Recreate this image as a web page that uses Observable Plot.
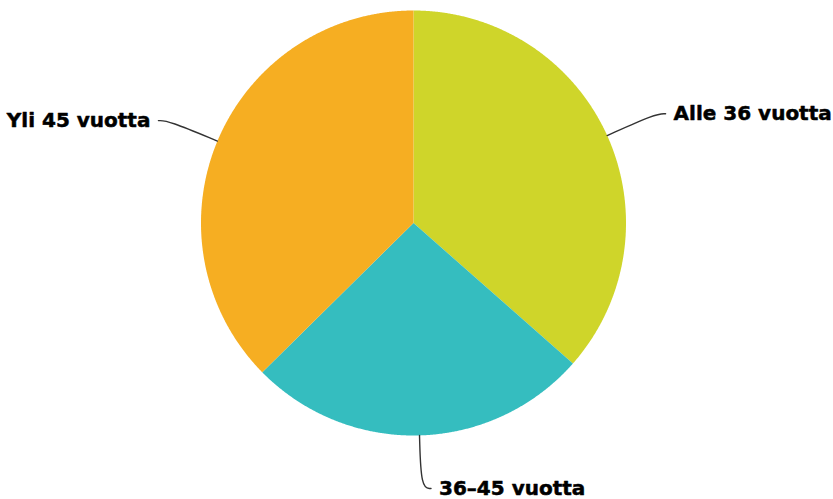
<!DOCTYPE html>
<html>
<head>
<meta charset="utf-8">
<script src="https://cdn.jsdelivr.net/npm/d3@7"></script>
<script src="https://cdn.jsdelivr.net/npm/@observablehq/plot@0.6"></script>
<style>
  html, body { margin: 0; padding: 0; background: #ffffff; }
  #chart svg { display: block; }
</style>
</head>
<body>
<div id="chart"></div>
<script>
// Data
const categories = ["Alle 36 vuotta", "36–45 vuotta", "Yli 45 vuotta"];
const values = [36.5, 26.1, 37.4];
const colors = ["#cfd52a", "#35bdbf", "#f6ae22"];

// Build slice polygons from the data (angles clockwise from 12 o'clock)
const total = d3.sum(values);
const slices = [];
let acc = 0;
categories.forEach((cat, i) => {
  const a0 = acc / total * 2 * Math.PI;
  acc += values[i];
  const a1 = acc / total * 2 * Math.PI;
  slices.push({cat, a0, a1, mid: (a0 + a1) / 2});
});

const polyPts = [];
for (const s of slices) {
  polyPts.push({cat: s.cat, x: 0, y: 0});
  const n = Math.max(2, Math.ceil((s.a1 - s.a0) / (Math.PI / 720)));
  for (let k = 0; k <= n; k++) {
    const a = s.a0 + (s.a1 - s.a0) * k / n;
    polyPts.push({cat: s.cat, x: Math.sin(a), y: Math.cos(a)});
  }
}

// Label layout (unit-radius coordinates)
const pxPerUnit = 212.5;
const labelR = 1.25;
const connPts = [];
const labelsRight = [], labelsLeft = [];
for (const s of slices) {
  const ex = Math.sin(s.mid), ey = Math.cos(s.mid);
  const bx = labelR * ex, by = labelR * ey;
  const side = ex >= 0 ? 1 : -1;
  const endX = bx + side * 10 / pxPerUnit;
  connPts.push({cat: s.cat, x: ex, y: ey});
  connPts.push({cat: s.cat, x: bx, y: by});
  connPts.push({cat: s.cat, x: endX, y: by});
  const lab = {cat: s.cat, x: endX + side * 8 / pxPerUnit, y: by};
  (side > 0 ? labelsRight : labelsLeft).push(lab);
}

const font = {fontFamily: "DejaVu Sans, Verdana, sans-serif", fontWeight: "bold", fontSize: 20, fill: "#000", stroke: "#000", strokeWidth: 0.5};

const chart = Plot.plot({
  width: 833,
  height: 499,
  margin: 0,
  style: {background: "#ffffff", overflow: "visible"},
  x: {domain: [-1, 1], range: [413 - pxPerUnit, 413 + pxPerUnit], axis: null},
  y: {domain: [-1, 1], range: [222.5 + pxPerUnit, 222.5 - pxPerUnit], axis: null},
  color: {domain: categories, range: colors},
  marks: [
    Plot.line(polyPts, {x: "x", y: "y", z: "cat", fill: "cat", stroke: "none", curve: "linear-closed"}),
    Plot.line(connPts, {x: "x", y: "y", z: "cat", stroke: "#333333", strokeWidth: 1.4, curve: "basis"}),
    Plot.text(labelsRight, {x: "x", y: "y", text: "cat", textAnchor: "start", ...font}),
    Plot.text(labelsLeft, {x: "x", y: "y", text: "cat", textAnchor: "end", ...font})
  ]
});
document.getElementById("chart").appendChild(chart);
</script>
</body>
</html>
